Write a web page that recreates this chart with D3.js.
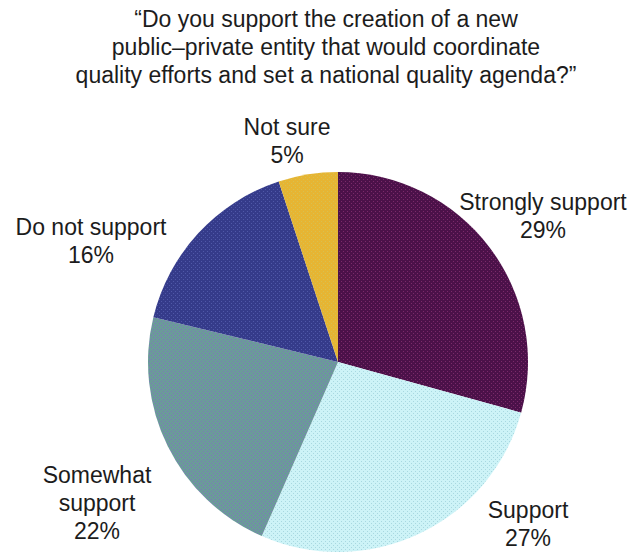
<!DOCTYPE html>
<html>
<head>
<meta charset="utf-8">
<script src="https://cdn.jsdelivr.net/npm/d3@7"></script>
<style>
  body { margin: 0; background: #fff; }
  text { font-family: "Liberation Sans", Arial, sans-serif; fill: #1c1c1c; }
</style>
</head>
<body>
<svg id="chart" width="639" height="553"></svg>
<script>
const categories = ["Strongly support", "Support", "Somewhat support", "Do not support", "Not sure"];
const values = [29, 27, 22, 16, 5];
const colors = ["#4b1149", "#cdf3f7", "#6b9a9a", "#353b8a", "#e6b533"];
const dotColors = ["#7a2a6a", "#a8d8e0", "#7c78b8", "#5058a8", "#d8c050"];
const labelLines = [["Strongly support", "29%"], ["Support", "27%"], ["Somewhat", "support", "22%"], ["Do not support", "16%"], ["Not sure", "5%"]];
const labelPos = [[543, 210], [528, 518], [97, 483], [91, 235], [287, 135]];
const titleLines = ["\u201cDo you support the creation of a new", "public\u2013private entity that would coordinate", "quality efforts and set a national quality agenda?\u201d"];

const svg = d3.select("#chart");
const cx = 338, cy = 362, r = 190;

// dithered look like the original gif
const defs = svg.append("defs");
colors.forEach((c, i) => {
	const p = defs.append("pattern")
		.attr("id", "pat" + i)
		.attr("width", 4).attr("height", 4)
		.attr("patternUnits", "userSpaceOnUse");
	p.append("rect").attr("width", 4).attr("height", 4).attr("fill", c);
	p.append("rect").attr("x", 1).attr("y", 1).attr("width", 1).attr("height", 1).attr("fill", dotColors[i]);
	p.append("rect").attr("x", 3).attr("y", 3).attr("width", 1).attr("height", 1).attr("fill", dotColors[i]);
});

svg.append("g").selectAll("text")
	.data(titleLines).enter().append("text")
		.attr("x", 326)
		.attr("y", (d, i) => 27 + i * 28)
		.attr("text-anchor", "middle")
		.style("font-size", "23px")
		.text(d => d);

const pie = d3.pie().sort(null).value(d => d);
const arc = d3.arc().innerRadius(0).outerRadius(r);

svg.append("g").attr("transform", "translate(" + cx + "," + cy + ")")
	.selectAll("path")
	.data(pie(values)).enter().append("path")
		.attr("d", arc)
		.attr("fill", (d, i) => "url(#pat" + i + ")");

const labels = svg.append("g").selectAll("text")
	.data(labelLines).enter().append("text")
		.attr("text-anchor", "middle")
		.style("font-size", "23px");

labels.each(function(lines, i) {
	d3.select(this).selectAll("tspan")
		.data(lines).enter().append("tspan")
			.attr("x", labelPos[i][0])
			.attr("y", (d, j) => labelPos[i][1] + j * 28)
			.text(d => d);
});
</script>
</body>
</html>
